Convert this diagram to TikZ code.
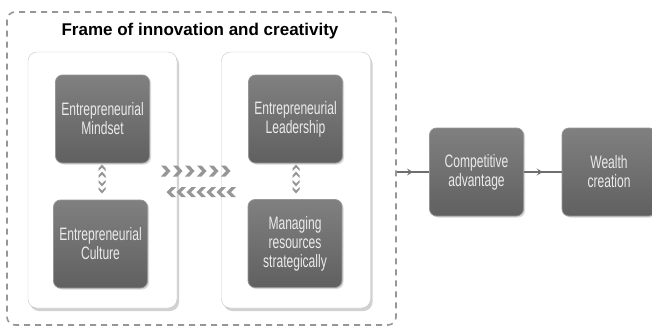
\documentclass[tikz,border=0pt]{standalone}
\usepackage{fontspec}
\setmainfont{Liberation Sans}
\newfontfamily\condfont[FakeStretch=0.67]{Liberation Sans}
\usetikzlibrary{shadows,decorations.markings,arrows.meta}

\definecolor{framegray}{RGB}{150,150,150}
\definecolor{boxtop}{RGB}{128,128,128}
\definecolor{boxbot}{RGB}{96,96,96}
\definecolor{boxedge}{RGB}{150,150,150}
\definecolor{chevgray}{RGB}{150,150,150}
\definecolor{linegray}{RGB}{110,110,110}

\tikzset{
  frame/.style={draw=framegray, line width=1.6pt, dash pattern=on 6pt off 5pt,
    rounded corners=8pt, minimum width=389pt, minimum height=313pt, inner sep=0pt},
  panel/.style={draw=gray!45, fill=white, rounded corners=9pt, inner sep=0pt,
    minimum width=149pt, minimum height=256pt,
    drop shadow={shadow xshift=2pt, shadow yshift=-3pt, opacity=0.45, fill=gray!80}},
  darkbox/.style={draw=boxedge, line width=0.8pt, rounded corners=7pt,
    top color=boxtop, bottom color=boxbot, inner sep=0pt,
    minimum width=94pt, minimum height=88pt, text=white!92!black, align=center,
    font=\condfont\fontsize{18}{19}\selectfont,
    drop shadow={shadow xshift=1.5pt, shadow yshift=-1.5pt, opacity=0.3, fill=gray}},
  flow/.style={draw=linegray, line width=1.1pt,
    postaction=decorate, decoration={markings,
      mark=at position 0.5 with {\arrow[linegray]{Stealth[length=6pt,width=7pt,inset=2.5pt]}}}},
  chev/.style={fill=chevgray, draw=none}
}

% right- and left-pointing chevrons, drawn at a given point
\newcommand\chevR[2]{\fill[chev] (#1,#2-5.5) -- ++(4.5,0) -- ++(5,5.5) -- ++(-5,5.5) -- ++(-4.5,0) -- ++(5,-5.5) -- cycle;}
\newcommand\chevL[2]{\fill[chev] (#1,#2-5) -- ++(-4.5,0) -- ++(-5,5) -- ++(5,5) -- ++(4.5,0) -- ++(-5,-5) -- cycle;}
% small up- and down-pointing chevrons
\newcommand\chevU[2]{\fill[chev] (#1-3.5,#2+2.5) -- (#1,#2-1.5) -- (#1+3.5,#2+2.5) -- (#1+3.5,#2+5) -- (#1,#2+1.5) -- (#1-3.5,#2+5) -- cycle;}
\newcommand\chevD[2]{\fill[chev] (#1-3.5,#2-2.5) -- (#1,#2+1.5) -- (#1+3.5,#2-2.5) -- (#1+3.5,#2-5) -- (#1,#2-1.5) -- (#1-3.5,#2-5) -- cycle;}

\begin{document}
\begin{tikzpicture}[x=1pt,y=-1pt]
\useasboundingbox (0,0) rectangle (652,327);

% outer dashed frame and its title
\node[frame] (frame) at (201.5,168.5) {};
\node[font=\bfseries\fontsize{17}{19}\selectfont] (title) at (200,31) {Frame of innovation and creativity};

% two white panels
\node[panel] (lp) at (102.5,180) {};
\node[panel] (rp) at (296,180) {};

% boxes inside the panels
\node[darkbox] (mind) at (102.5,119) {Entrepreneurial\\Mindset};
\node[darkbox] (cult) at (100.5,244) {Entrepreneurial\\Culture};
\node[darkbox] (lead) at (295.5,119) {Entrepreneurial\\Leadership};
\node[darkbox] (res)  at (295,243.5) {Managing\\resources\\strategically};

% outcome boxes
\node[darkbox] (comp) at (476.5,172) {Competitive\\advantage};
\node[darkbox] (wealth) at (609,172) {Wealth\\creation};

% chevron rows between the panels
\foreach \k in {0,...,5} { \chevR{161+12*\k}{171} }
\foreach \k in {0,...,6} { \chevL{176+10*\k}{192} }

% double chevrons between stacked boxes
\foreach \cx in {102,296} {
  \chevU{\cx}{166} \chevU{\cx}{173}
  \chevD{\cx}{185} \chevD{\cx}{192}
}

% flow to the outcomes
\draw[flow] (frame.east |- comp.west) -- (comp.west);
\draw[flow] (comp.east) -- (wealth.west);
\end{tikzpicture}
\end{document}
